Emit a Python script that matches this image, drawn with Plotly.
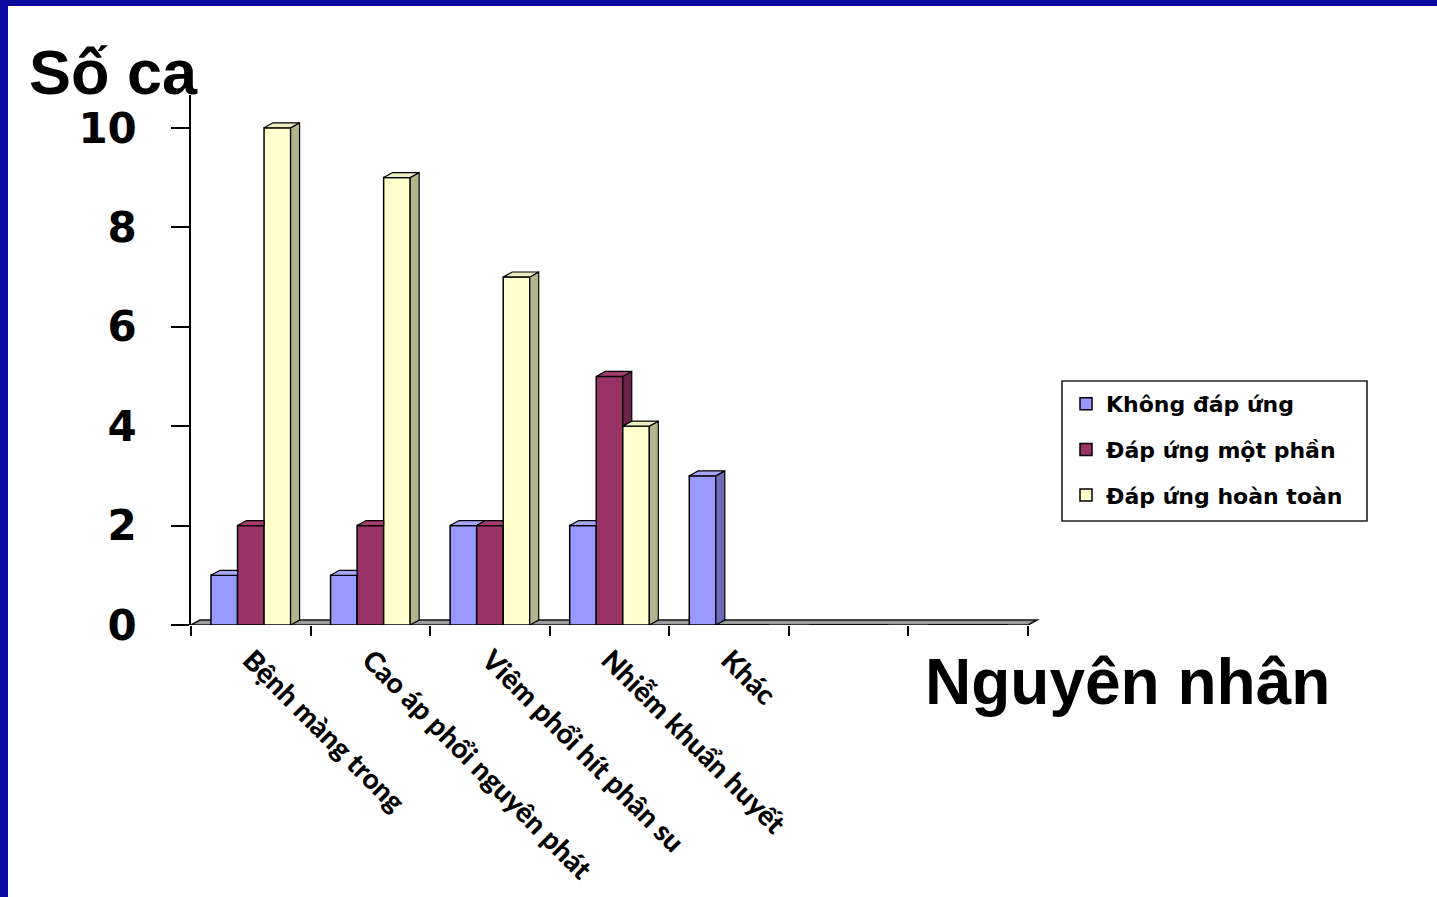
import plotly.graph_objects as go

# ---- data -------------------------------------------------------------
categories = ["Bệnh màng trong", "Cao áp phổi nguyên phát", "Viêm phổi hít phân su",
              "Nhiễm khuẩn huyết", "Khác", "", ""]
khong_dap_ung = [1, 1, 2, 2, 3, 0, 0]
dap_ung_mot_phan = [2, 2, 2, 5, 0, 0, 0]
dap_ung_hoan_toan = [10, 9, 7, 4, 0, 0, 0]
series_names = ["Không đáp ứng", "Đáp ứng một phần", "Đáp ứng hoàn toàn"]
y_ticks = [0, 2, 4, 6, 8, 10]

# ---- style ------------------------------------------------------------
front_colors = ["#9999FF", "#993366", "#FFFFCC"]
top_colors = ["#A6A6FF", "#A33D70", "#EDEDC2"]
side_colors = ["#6C6CB8", "#6A2346", "#B3B38E"]
BORDER_BLUE = "#0A0AA0"

W, H = 1437, 897
PLOT_L, PLOT_R, PLOT_T, PLOT_B = 191, 1040, 95, 625
X_RANGE = [-0.5, 6.6]
Y_RANGE = [0, 10.66]
BAR_W = 0.222          # width of one column, in category units
DEPTH_X = 0.075        # 3-D depth offset (x, category units)
DEPTH_Y = 0.10         # 3-D depth offset (y, value units)

series = [khong_dap_ung, dap_ung_mot_phan, dap_ung_hoan_toan]
xs = list(range(len(categories)))
offsets = [-1.5 * BAR_W + j * BAR_W for j in range(len(series))]


def paper_x(px):
    return (px - PLOT_L) / (PLOT_R - PLOT_L)


def paper_y(py):
    return (PLOT_B - py) / (PLOT_B - PLOT_T)


fig = go.Figure()

# front faces of the columns
for j, vals in enumerate(series):
    fig.add_trace(go.Bar(
        x=xs, y=vals, width=BAR_W, offset=offsets[j],
        name=series_names[j], legendgroup=series_names[j],
        marker=dict(color=front_colors[j], line=dict(color="black", width=1.5)),
        hoverinfo="skip",
    ))


def polys_to_xy(polys):
    px, py = [], []
    for poly in polys:
        for (a, b) in poly + [poly[0]]:
            px.append(a)
            py.append(b)
        px.append(None)
        py.append(None)
    return px, py


# top and side faces, clipped where the next column in the cluster hides them
for j, vals in enumerate(series):
    tops, sides = [], []
    for i, h in enumerate(vals):
        if h <= 0:
            continue
        xl = i + offsets[j]
        xr = xl + BAR_W
        h_next = series[j + 1][i] if j + 1 < len(series) else 0
        if h_next > h:
            tops.append([(xl, h), (xr, h), (xr, h + DEPTH_Y), (xl + DEPTH_X, h + DEPTH_Y)])
        else:
            tops.append([(xl, h), (xr, h), (xr + DEPTH_X, h + DEPTH_Y),
                         (xl + DEPTH_X, h + DEPTH_Y)])
        if h_next < h:
            sides.append([(xr, h_next), (xr + DEPTH_X, h_next + DEPTH_Y),
                          (xr + DEPTH_X, h + DEPTH_Y), (xr, h)])
    for polys, col in ((sides, side_colors[j]), (tops, top_colors[j])):
        if not polys:
            continue
        px, py = polys_to_xy(polys)
        fig.add_trace(go.Scatter(
            x=px, y=py, mode="lines", fill="toself", fillcolor=col,
            line=dict(color="black", width=1.2), showlegend=False, hoverinfo="skip",
        ))

shapes = [
    # floor of the 3-D plot
    dict(type="path", xref="x", yref="y", layer="below",
         path=(f"M{X_RANGE[0]},0 L{len(categories) - 0.5},0 "
               f"L{len(categories) - 0.5 + DEPTH_X},{DEPTH_Y} "
               f"L{X_RANGE[0] + DEPTH_X},{DEPTH_Y} Z"),
         fillcolor="#9C9C9C", line=dict(color="#111111", width=1.6)),
    # legend frame
    dict(type="rect", xref="paper", yref="paper", layer="below",
         x0=paper_x(1062), x1=paper_x(1367), y0=paper_y(521), y1=paper_y(381),
         fillcolor="white", line=dict(color="#222222", width=1.6)),
    # slide frame (left and top)
    dict(type="rect", xref="paper", yref="paper", layer="above",
         x0=paper_x(0), x1=paper_x(8), y0=paper_y(H), y1=paper_y(0),
         fillcolor=BORDER_BLUE, line=dict(width=0)),
    dict(type="rect", xref="paper", yref="paper", layer="above",
         x0=paper_x(0), x1=paper_x(W), y0=paper_y(6), y1=paper_y(0),
         fillcolor=BORDER_BLUE, line=dict(width=0)),
]

annotations = [
    dict(text="Số ca", xref="paper", yref="paper", x=paper_x(27), y=paper_y(72),
         xanchor="left", yanchor="middle", showarrow=False,
         font=dict(family="Liberation Sans, Arial", size=63, color="black", weight="bold")),
    dict(text="Nguyên nhân", xref="paper", yref="paper", x=paper_x(923), y=paper_y(682),
         xanchor="left", yanchor="middle", showarrow=False,
         font=dict(family="Liberation Sans, Arial", size=64, color="black", weight="bold")),
]

fig.update_layout(
    width=W, height=H,
    margin=dict(l=PLOT_L, r=W - PLOT_R, t=PLOT_T, b=H - PLOT_B, pad=0, autoexpand=False),
    paper_bgcolor="white", plot_bgcolor="white",
    barmode="overlay",
    showlegend=True,
    legend=dict(
        x=paper_x(1066), y=paper_y(383), xanchor="left", yanchor="top",
        bgcolor="rgba(0,0,0,0)", borderwidth=0,
        font=dict(family="DejaVu Sans", size=22, color="black", weight="bold"),
        tracegroupgap=14, traceorder="grouped",
    ),
    xaxis=dict(
        range=X_RANGE, tickmode="array", tickvals=xs, ticktext=categories,
        tickangle=45, ticks="", showline=False, showgrid=False, zeroline=False,
        tickfont=dict(family="Lato", size=28, color="black", weight=900),
        ticklabelstandoff=12,
        minor=dict(tickmode="array", tickvals=[k - 0.5 for k in range(len(categories) + 1)],
                   ticks="outside", ticklen=10, tickwidth=1.5, tickcolor="black",
                   showgrid=False),
    ),
    yaxis=dict(
        range=Y_RANGE, tickmode="array", tickvals=y_ticks,
        ticks="outside", ticklen=18, tickwidth=1.5, tickcolor="black",
        showline=True, linecolor="black", linewidth=1.5,
        showgrid=False, zeroline=False, ticklabelstandoff=26,
        tickfont=dict(family="DejaVu Sans", size=42, color="black", weight="bold"),
    ),
    shapes=shapes,
    annotations=annotations,
)

fig.write_html("out.html")
